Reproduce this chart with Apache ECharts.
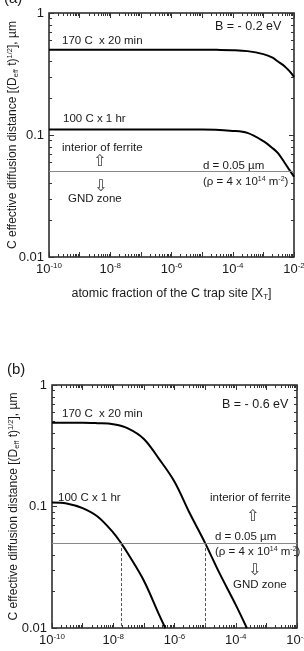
<!DOCTYPE html>
<html>
<head>
<meta charset="utf-8">
<script src="https://cdn.jsdelivr.net/npm/echarts@6/dist/echarts.min.js"></script>
<style>
  html, body { margin: 0; padding: 0; background: #fff; }
  #chart { width: 304px; height: 651px; }
</style>
</head>
<body>
<div id="chart"></div>
<script>
// (a) B = -0.2 eV
const xA170 = [1e-10, 1e-8, 1e-6, 1e-5, 3e-5, 1e-4, 3e-4, 1e-3, 2e-3, 3e-3, 5e-3, 7e-3, 1e-2]
const yA170 = [0.5, 0.5, 0.5, 0.5, 0.499, 0.496, 0.487, 0.46, 0.43, 0.40, 0.365, 0.335, 0.30]
const xA100 = [1e-10, 1e-8, 1e-6, 1e-5, 1e-4, 3e-4, 1e-3, 2e-3, 3e-3, 5e-3, 7e-3, 1e-2]
const yA100 = [0.111, 0.111, 0.111, 0.111, 0.108, 0.104, 0.089, 0.078, 0.071, 0.059, 0.052, 0.0455]

// (b) B = -0.6 eV
const xB170 = [1e-10, 1e-9, 3e-9, 1e-8, 3e-8, 1e-7, 3e-7, 1e-6, 3e-6, 1e-5, 3e-5, 1e-4, 2.3e-4]
const yB170 = [0.49, 0.49, 0.485, 0.475, 0.44, 0.36, 0.25, 0.16, 0.09, 0.05, 0.028, 0.0155, 0.01]
const xB100 = [1e-10, 3e-10, 1e-9, 3e-9, 1e-8, 1.8e-8, 3e-8, 1e-7, 3e-7, 5e-7]
const yB100 = [0.108, 0.106, 0.097, 0.083, 0.061, 0.05, 0.041, 0.0245, 0.0132, 0.01]

// GND zone boundary d = 0.05 um and where the curves cross it in (b)
const dLimit = 0.05
const crossB = [1.8e-8, 1e-5]

// axis ranges
const xRange = [1e-10, 1e-2]
const yRange = [0.01, 1]

// plot boxes
const boxes = [
  { left: 49, top: 13, width: 245, height: 244 },
  { left: 52, top: 385, width: 245, height: 243 }
]

const font = 'Liberation Sans, Arial, sans-serif'
const ink = '#1a1a1a'

const pairs = (xs, ys) => xs.map((x, i) => [x, ys[i]])

const supRich = {
  sup: { fontSize: 8, fontFamily: font, color: ink, verticalAlign: 'top', lineHeight: 14 },
  sub: { fontSize: 8, fontFamily: font, color: ink, verticalAlign: 'bottom', lineHeight: 14 },
  base: { fontSize: 13, fontFamily: font, color: ink, lineHeight: 14 }
}
const yTitle = 'C effective diffusion distance [(D{sub|eff} t){sup|1/2}], µm'

// inward major + minor ticks, shared by all eight axes
const tickIn = { show: true, inside: true, length: 5, lineStyle: { color: '#333', width: 1 } }
const minorIn = { show: true, splitNumber: 9, length: 3, lineStyle: { color: '#333', width: 1 } }

function xAxisCfg(gi, pos, withName) {
  const main = pos === 'bottom'
  return {
    type: 'log',
    logBase: 10,
    gridIndex: gi,
    position: pos,
    min: xRange[0],
    max: xRange[1],
    interval: 1,
    axisLine: { show: false },
    axisTick: tickIn,
    minorTick: minorIn,
    splitLine: { show: false },
    minorSplitLine: { show: false },
    axisLabel: {
      show: main,
      margin: 5,
      showMinLabel: true,
      showMaxLabel: true,
      formatter: v => {
        const e = Math.round(Math.log10(v))
        return e % 2 === 0 ? '{base|10}{sup|' + e + '}' : ''
      },
      rich: supRich
    },
    name: withName ? 'atomic fraction of the C trap site [X{sub|T}]' : '',
    nameLocation: 'middle',
    nameGap: 29,
    nameMoveOverlap: false,
    nameTextStyle: {
      fontSize: 12.5, fontFamily: font, color: ink,
      rich: { sub: { fontSize: 8, fontFamily: font, color: ink, verticalAlign: 'bottom', lineHeight: 15 } }
    }
  }
}

function yAxisCfg(gi, pos, gap) {
  const main = pos === 'left'
  return {
    type: 'log',
    logBase: 10,
    gridIndex: gi,
    position: pos,
    min: yRange[0],
    max: yRange[1],
    interval: 1,
    axisLine: { show: false },
    axisTick: tickIn,
    minorTick: minorIn,
    splitLine: { show: false },
    minorSplitLine: { show: false },
    axisLabel: {
      show: main,
      margin: 5,
      fontSize: 13,
      fontFamily: font,
      color: ink,
      formatter: v => {
        const e = Math.round(Math.log10(v))
        return Math.pow(10, e).toFixed(Math.max(0, -e))
      }
    },
    name: main ? yTitle : '',
    nameLocation: 'middle',
    nameRotate: 90,
    nameGap: gap,
    nameMoveOverlap: false,
    nameTextStyle: {
      fontSize: 12, fontFamily: font, color: ink,
      rich: {
        sup: { fontSize: 7.5, fontFamily: font, color: ink, verticalAlign: 'top', lineHeight: 14 },
        sub: { fontSize: 7.5, fontFamily: font, color: ink, verticalAlign: 'bottom', lineHeight: 14 }
      }
    }
  }
}

// grid gi uses xAxis/yAxis index 2*gi (bottom/left); 2*gi+1 are the mirrored top/right
function curve(name, data, gi, extra) {
  return Object.assign({
    name: name,
    type: 'line',
    xAxisIndex: 2 * gi,
    yAxisIndex: 2 * gi,
    data: data,
    smooth: 0.35,
    showSymbol: false,
    lineStyle: { color: '#000', width: 2 },
    z: 4
  }, extra || {})
}

function txt(x, y, text, size, rich) {
  const style = { text: text, fill: ink, font: size + 'px ' + font, verticalAlign: 'middle' }
  if (rich) style.rich = rich
  return { type: 'text', x: x, y: y, style: style }
}
const rhoRich = { s: { fontSize: 7, fontFamily: font, fill: ink, verticalAlign: 'top', lineHeight: 13 } }
const arrowFont = 'DejaVu Sans, sans-serif'
function arrow(x, y, ch) {
  return {
    type: 'text', x: x, y: y,
    style: { text: ch, fill: '#444', font: '16px ' + arrowFont, verticalAlign: 'middle' }
  }
}

const limitLine = {
  silent: true,
  symbol: 'none',
  label: { show: false },
  lineStyle: { color: '#888', width: 1, type: 'solid' },
  data: [{ yAxis: dLimit }]
}

const gridBase = { show: true, borderColor: '#222', borderWidth: 1.5, backgroundColor: 'transparent', outerBoundsMode: 'none', containLabel: false }

const notes = [
  // panel (a)
  txt(4, -1, '(a)', 15),
  txt(215, 27, 'B = - 0.2 eV', 12.5),
  txt(62, 41, '170 C  x 20 min', 11.5),
  txt(63, 119, '100 C x 1 hr', 11.5),
  txt(62, 148, 'interior of ferrite', 11.5),
  arrow(93, 162, '⇧'),
  txt(203, 166, 'd = 0.05 µm', 11.5),
  txt(203, 182, '(ρ = 4 x 10{s|14} m{s|-2})', 11.5, rhoRich),
  arrow(94, 187, '⇩'),
  txt(68, 199, 'GND zone', 11.5),
  // panel (b)
  txt(7, 370, '(b)', 15),
  txt(222, 405, 'B = - 0.6 eV', 12.5),
  txt(62, 414, '170 C  x 20 min', 11.5),
  txt(58, 498, '100 C x 1 hr', 11.5),
  txt(210, 498, 'interior of ferrite', 11.5),
  arrow(246, 517, '⇧'),
  txt(215, 537, 'd = 0.05 µm', 11.5),
  txt(215, 552, '(ρ = 4 x 10{s|14} m{s|-2})', 11.5, rhoRich),
  arrow(248, 571, '⇩'),
  txt(233, 585, 'GND zone', 11.5)
]

const chart = echarts.init(document.getElementById('chart'))
chart.setOption({
  animation: false,
  backgroundColor: '#fff',
  grid: boxes.map(b => Object.assign({}, b, gridBase)),
  xAxis: [
    xAxisCfg(0, 'bottom', true), xAxisCfg(0, 'top', false),
    xAxisCfg(1, 'bottom', false), xAxisCfg(1, 'top', false)
  ],
  yAxis: [
    yAxisCfg(0, 'left', 29), yAxisCfg(0, 'right', 0),
    yAxisCfg(1, 'left', 31), yAxisCfg(1, 'right', 0)
  ],
  series: [
    curve('170 C x 20 min (a)', pairs(xA170, yA170), 0),
    curve('100 C x 1 hr (a)', pairs(xA100, yA100), 0, { markLine: limitLine }),
    curve('170 C x 20 min (b)', pairs(xB170, yB170), 1),
    curve('100 C x 1 hr (b)', pairs(xB100, yB100), 1, {
      markLine: Object.assign({}, limitLine, {
        data: [{ yAxis: dLimit }].concat(crossB.map(c => [
          { coord: [c, dLimit], lineStyle: { color: '#555', width: 1, type: [3, 2] } },
          { coord: [c, yRange[0]] }
        ]))
      })
    })
  ],
  graphic: notes
})
</script>
</body>
</html>
